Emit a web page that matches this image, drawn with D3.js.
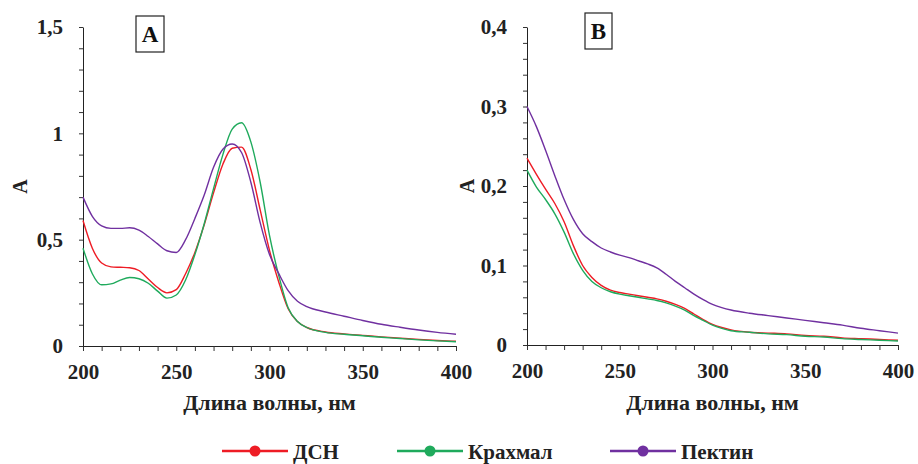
<!DOCTYPE html>
<html>
<head>
<meta charset="utf-8">
<script src="https://cdn.jsdelivr.net/npm/d3@7/dist/d3.min.js"></script>
<style>
  html, body { margin: 0; padding: 0; background: #fff; }
  svg { display: block; }
  svg text { font-family: "Liberation Serif", "Times New Roman", serif; font-weight: bold; }
</style>
</head>
<body>
<svg id="chart" width="918" height="464"></svg>
<script>
// --- Daten: Panel A ---
const wlA = [200, 205, 210, 215, 220, 225, 230, 235, 240, 245, 250, 255, 260, 265, 270, 275, 280, 285, 290, 295, 300, 305, 310, 315, 320, 330, 340, 350, 360, 370, 380, 390, 400];
const dsnA = [0.59, 0.46, 0.39, 0.372, 0.37, 0.368, 0.355, 0.315, 0.275, 0.25, 0.265, 0.34, 0.44, 0.57, 0.72, 0.855, 0.93, 0.935, 0.83, 0.64, 0.45, 0.30, 0.175, 0.115, 0.087, 0.066, 0.057, 0.05, 0.043, 0.037, 0.031, 0.026, 0.022];
const starchA = [0.46, 0.34, 0.288, 0.292, 0.31, 0.322, 0.316, 0.295, 0.258, 0.225, 0.24, 0.31, 0.43, 0.575, 0.74, 0.90, 1.02, 1.05, 0.96, 0.77, 0.52, 0.33, 0.18, 0.115, 0.087, 0.064, 0.055, 0.048, 0.041, 0.035, 0.029, 0.024, 0.02];
const pectinA = [0.70, 0.61, 0.565, 0.553, 0.553, 0.556, 0.545, 0.515, 0.48, 0.448, 0.44, 0.50, 0.60, 0.71, 0.84, 0.925, 0.95, 0.91, 0.77, 0.58, 0.43, 0.34, 0.26, 0.21, 0.185, 0.16, 0.14, 0.12, 0.102, 0.088, 0.075, 0.064, 0.055];

// --- Daten: Panel B ---
const wlB = [200, 205, 210, 215, 220, 225, 230, 235, 240, 245, 250, 255, 260, 265, 270, 275, 280, 285, 290, 295, 300, 305, 310, 320, 330, 340, 350, 360, 370, 380, 390, 400];
const dsnB = [0.235, 0.215, 0.196, 0.178, 0.155, 0.125, 0.100, 0.085, 0.075, 0.069, 0.066, 0.064, 0.062, 0.060, 0.058, 0.055, 0.051, 0.046, 0.039, 0.032, 0.026, 0.022, 0.019, 0.016, 0.015, 0.014, 0.012, 0.011, 0.009, 0.008, 0.007, 0.006];
const starchB = [0.22, 0.199, 0.183, 0.165, 0.142, 0.115, 0.094, 0.08, 0.072, 0.067, 0.064, 0.062, 0.060, 0.058, 0.056, 0.053, 0.049, 0.044, 0.037, 0.031, 0.025, 0.021, 0.018, 0.016, 0.014, 0.013, 0.011, 0.010, 0.008, 0.007, 0.006, 0.005];
const pectinB = [0.30, 0.275, 0.245, 0.213, 0.183, 0.158, 0.14, 0.13, 0.122, 0.117, 0.113, 0.11, 0.106, 0.102, 0.097, 0.089, 0.080, 0.072, 0.064, 0.057, 0.051, 0.047, 0.044, 0.040, 0.037, 0.034, 0.031, 0.028, 0.025, 0.021, 0.018, 0.015];

// --- Achsen / Beschriftungen ---
const xLabelTicks = [200, 250, 300, 350, 400];
const yLabelTicksA = [0, 0.5, 1, 1.5];
const yLabelTicksB = [0, 0.1, 0.2, 0.3, 0.4];
const seriesNames = ['ДСН', 'Крахмал', 'Пектин'];
const seriesColors = ['#ee1c25', '#1faa5c', '#7030a0'];
const xTitle = 'Длина волны, нм';
const yTitle = 'А';

const FONT = '"Liberation Serif", "Times New Roman", serif';
const svg = d3.select('#chart');

const panels = [
  { tag: 'А', wl: wlA, series: [dsnA, starchA, pectinA], yMax: 1.5, yStep: 0.1, yLabels: yLabelTicksA,
    left: 83, right: 456, top: 27, bottom: 346, box: { x: 136, y: 16, w: 28, h: 36 }, yTitleX: 20 },
  { tag: 'В', wl: wlB, series: [dsnB, starchB, pectinB], yMax: 0.4, yStep: 0.02, yLabels: yLabelTicksB,
    left: 527, right: 898, top: 27, bottom: 345, box: { x: 585, y: 13, w: 27, h: 36 }, yTitleX: 467 }
];

const fmt = v => String(+v.toFixed(2)).replace('.', ',');

panels.forEach(p => {
  const g = svg.append('g');
  const x = d3.scaleLinear().domain([200, 400]).range([p.left, p.right]);
  const y = d3.scaleLinear().domain([0, p.yMax]).range([p.bottom, p.top]);

  // X-Achse (kleine Ticks alle 10 nm)
  const xTickVals = d3.range(200, 401, 10);
  g.append('g')
    .attr('transform', `translate(0,${p.bottom})`)
    .call(d3.axisBottom(x).tickValues(xTickVals).tickSize(5).tickSizeOuter(0).tickPadding(13)
      .tickFormat(d => xLabelTicks.includes(d) ? d : ''))
    .attr('font-family', FONT)
    .call(a => a.selectAll('text').attr('font-size', 21).attr('fill', '#222'));

  // Y-Achse
  const n = Math.round(p.yMax / p.yStep);
  const yTickVals = d3.range(0, n + 1).map(i => +(i * p.yStep).toFixed(3));
  g.append('g')
    .attr('transform', `translate(${p.left},0)`)
    .call(d3.axisLeft(y).tickValues(yTickVals).tickSize(4).tickSizeOuter(0).tickPadding(16)
      .tickFormat(d => p.yLabels.some(v => Math.abs(v - d) < 1e-6) ? fmt(d) : ''))
    .attr('font-family', FONT)
    .call(a => a.selectAll('text').attr('font-size', 21).attr('fill', '#222'));

  g.selectAll('.domain').attr('stroke', '#222');
  g.selectAll('.tick line').attr('stroke', '#333');

  // Kurven
  const line = d3.line()
    .x((d, i) => x(p.wl[i]))
    .y(d => y(d))
    .curve(d3.curveMonotoneX);

  p.series.forEach((s, i) => {
    g.append('path')
      .datum(s)
      .attr('fill', 'none')
      .attr('stroke', seriesColors[i])
      .attr('stroke-width', 1.4)
      .attr('d', line);
  });

  // Achsentitel
  g.append('text')
    .attr('x', (p.left + p.right) / 2)
    .attr('y', 410)
    .attr('text-anchor', 'middle')
    .attr('font-size', 22)
    .attr('fill', '#222')
    .text(xTitle);

  g.append('text')
    .attr('transform', `translate(${p.yTitleX},${(p.top + p.bottom) / 2}) rotate(-90)`)
    .attr('text-anchor', 'middle')
    .attr('dy', '0.35em')
    .attr('font-size', 20)
    .attr('fill', '#222')
    .text(yTitle);

  // Panel-Kennung im Kasten
  g.append('rect')
    .attr('x', p.box.x).attr('y', p.box.y)
    .attr('width', p.box.w).attr('height', p.box.h)
    .attr('fill', '#fff').attr('stroke', '#222').attr('stroke-width', 1.2);
  g.append('text')
    .attr('x', p.box.x + p.box.w / 2)
    .attr('y', p.box.y + p.box.h / 2)
    .attr('dy', '0.35em')
    .attr('text-anchor', 'middle')
    .attr('font-size', 23)
    .attr('fill', '#111')
    .text(p.tag);
});

// Legende
const legendX = [222, 397, 610];
const legendLen = 66;
const legend = svg.append('g').attr('transform', 'translate(0,451)');
seriesNames.forEach((name, i) => {
  const item = legend.append('g').attr('transform', `translate(${legendX[i]},0)`);
  item.append('line')
    .attr('x1', 0).attr('x2', legendLen)
    .attr('stroke', seriesColors[i]).attr('stroke-width', 2.5);
  item.append('circle')
    .attr('cx', legendLen / 2).attr('r', 5.5)
    .attr('fill', seriesColors[i]);
  item.append('text')
    .attr('x', legendLen + 5)
    .attr('y', 8)
    .attr('font-size', 21)
    .attr('fill', '#222')
    .text(name);
});
</script>
</body>
</html>
